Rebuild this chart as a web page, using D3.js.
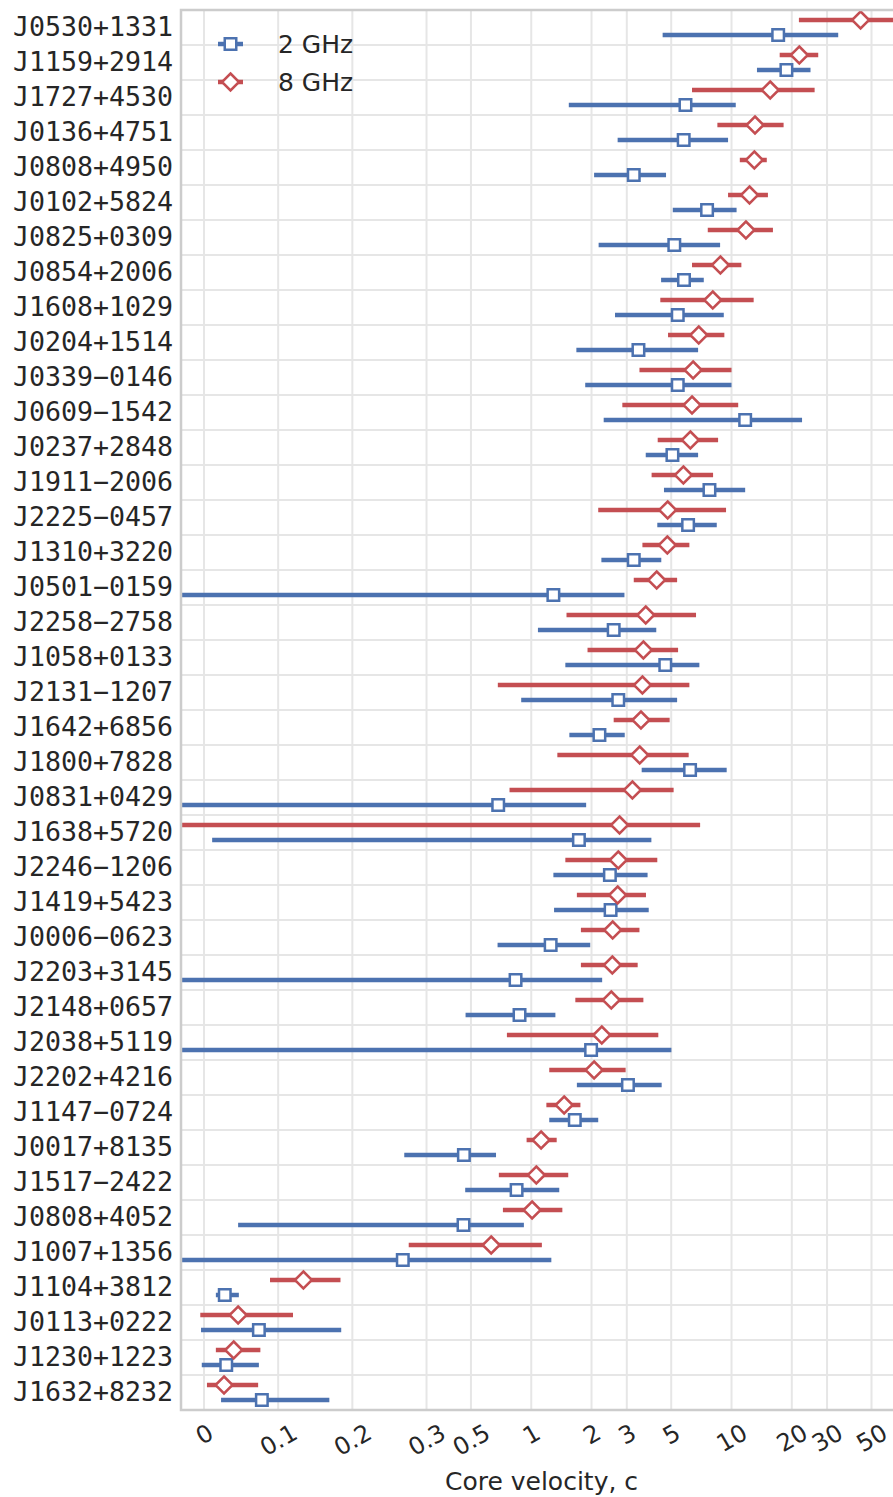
<!DOCTYPE html>
<html lang="en">
<head>
<meta charset="utf-8">
<title>Core velocity</title>
<style>
  body { margin: 0; background: #fff; }
  svg { display: block; }
  text { fill: #262626; }
  .grid line { stroke: #e6e6e6; stroke-width: 2px; }
  .spine { stroke: #cccccc; stroke-width: 2.5px; fill: none; }
  .err { stroke-width: 4.5px; fill: none; }
  .mark { fill: #fff; stroke-width: 2.5px; }
</style>
</head>
<body>
<div id="chart"></div>
<script src="https://d3js.org/d3.v7.min.js"></script>
<script>
// sources, top to bottom
var names = ["J0530+1331", "J1159+2914", "J1727+4530", "J0136+4751", "J0808+4950",
  "J0102+5824", "J0825+0309", "J0854+2006", "J1608+1029", "J0204+1514",
  "J0339\u22120146", "J0609\u22121542", "J0237+2848", "J1911\u22122006", "J2225\u22120457",
  "J1310+3220", "J0501\u22120159", "J2258\u22122758", "J1058+0133", "J2131\u22121207",
  "J1642+6856", "J1800+7828", "J0831+0429", "J1638+5720", "J2246\u22121206",
  "J1419+5423", "J0006\u22120623", "J2203+3145", "J2148+0657", "J2038+5119",
  "J2202+4216", "J1147\u22120724", "J0017+8135", "J1517\u22122422", "J0808+4052",
  "J1007+1356", "J1104+3812", "J0113+0222", "J1230+1223", "J1632+8232"];

// 8 GHz core velocity and error range
var v8 = [44.1, 21.8, 15.6, 13.1, 13.0, 12.3, 11.8, 8.80, 8.06, 6.86,
  6.43, 6.35, 6.23, 5.75, 4.80, 4.78, 4.23, 3.73, 3.63, 3.59,
  3.53, 3.48, 3.20, 2.76, 2.72, 2.70, 2.55, 2.54, 2.51, 2.25,
  2.06, 1.46, 1.12, 1.06, 1.01, 0.631, 0.134, 0.046, 0.040, 0.027];
var v8lo = [21.7, 17.4, 6.35, 8.50, 11.0, 9.61, 7.61, 6.35, 4.41, 4.82,
  3.47, 2.85, 4.28, 3.99, 2.16, 3.59, 3.25, 1.50, 1.91, 0.681,
  2.58, 1.35, 0.779, -1.4, 1.48, 1.69, 1.77, 1.77, 1.66, 0.756,
  1.23, 1.19, 0.948, 0.689, 0.722, 0.276, 0.089, -0.005, 0.016, 0.004];
var v8hi = [66, 27.1, 26.0, 18.2, 15.0, 15.2, 16.1, 11.2, 12.9, 9.21,
  10.0, 10.8, 8.57, 8.09, 9.39, 6.16, 5.35, 6.65, 5.41, 6.16,
  4.91, 6.11, 5.14, 6.97, 4.26, 3.74, 3.47, 3.40, 3.63, 4.31,
  2.96, 1.76, 1.34, 1.53, 1.43, 1.13, 0.184, 0.120, 0.076, 0.073];

// 2 GHz core velocity and error range
var v2 = [17.1, 18.8, 5.89, 5.77, 3.25, 7.55, 5.18, 5.79, 5.39, 3.43,
  5.39, 11.7, 5.07, 7.76, 6.07, 3.25, 1.29, 2.58, 4.67, 2.72,
  2.19, 6.21, 0.684, 1.73, 2.47, 2.49, 1.25, 0.835, 0.874, 1.99,
  3.04, 1.65, 0.461, 0.845, 0.459, 0.268, 0.028, 0.074, 0.030, 0.078];
var v2lo = [4.53, 13.4, 1.54, 2.70, 2.06, 5.09, 2.17, 4.45, 2.62, 1.68,
  1.86, 2.30, 3.73, 4.60, 4.26, 2.24, -0.35, 1.08, 1.48, 0.891,
  1.55, 3.56, -0.5, 0.011, 1.29, 1.30, 0.679, -0.6, 0.470, -1.0,
  1.69, 1.23, 0.27, 0.468, 0.046, -0.73, 0.016, -0.004, -0.003, 0.023];
var v2hi = [34.1, 24.8, 10.5, 9.61, 4.71, 10.6, 8.77, 7.27, 9.15, 6.81,
  10.0, 22.5, 6.81, 11.7, 8.44, 4.46, 2.92, 4.21, 6.91, 5.35,
  2.93, 9.46, 1.88, 3.98, 3.81, 3.86, 1.97, 2.26, 1.32, 5.01,
  4.48, 2.16, 0.667, 1.38, 0.919, 1.26, 0.047, 0.185, 0.074, 0.169];

var xTicks = [0, 0.1, 0.2, 0.3, 0.5, 1, 2, 3, 5, 10, 20, 30, 50];
var xTickLabels = ["0", "0.1", "0.2", "0.3", "0.5", "1", "2", "3", "5", "10", "20", "30", "50"];

var width = 893, height = 1497,
    plot = {left: 181, top: 10, right: 902, bottom: 1410};

var blue = "#4c72b0", red = "#c44e52";

// symlog like matplotlib: linear up to 0.3, log10 above
var linthresh = 0.3, linscale = 1 / (1 - 1 / 10);
function symlog(v) {
  var a = Math.abs(v);
  if (a <= linthresh) return v / linthresh * linscale;
  return Math.sign(v) * (linscale + Math.log10(a / linthresh));
}

var xLin = d3.scaleLinear()
    .domain([symlog(-0.031), symlog(71)])
    .range([plot.left, plot.right]);
function x(v) { return xLin(symlog(v)); }

var y = d3.scaleBand()
    .domain(names)
    .range([plot.top, plot.bottom]);

var svg = d3.select("#chart").append("svg")
    .attr("width", width)
    .attr("height", height)
    .attr("font-family", "DejaVu Sans");

svg.append("defs").append("clipPath")
    .attr("id", "clip")
  .append("rect")
    .attr("x", plot.left)
    .attr("y", plot.top)
    .attr("width", plot.right - plot.left)
    .attr("height", plot.bottom - plot.top);

// grid
var grid = svg.append("g").attr("class", "grid");
grid.selectAll(".vgrid")
    .data(xTicks)
  .enter().append("line")
    .attr("x1", function(d) { return x(d); })
    .attr("x2", function(d) { return x(d); })
    .attr("y1", plot.top)
    .attr("y2", plot.bottom);
grid.selectAll(".hgrid")
    .data(names.slice(1))
  .enter().append("line")
    .attr("x1", plot.left)
    .attr("x2", plot.right)
    .attr("y1", function(d) { return y(d); })
    .attr("y2", function(d) { return y(d); });

// one entry per source and band
var series = [
  {name: "2 GHz", color: blue, shape: "square", off: 7.5, v: v2, lo: v2lo, hi: v2hi},
  {name: "8 GHz", color: red, shape: "diamond", off: -7.5, v: v8, lo: v8lo, hi: v8hi}
];

function markerPath(shape) {
  if (shape === "square") return "M-5.75,-5.75H5.75V5.75H-5.75Z";
  return "M0,-8.5L8.5,0L0,8.5L-8.5,0Z";
}

var marks = svg.append("g").attr("clip-path", "url(#clip)");

series.forEach(function(s) {
  var g = marks.append("g");
  var rows = names.map(function(n, i) {
    return {name: n, v: s.v[i], lo: s.lo[i], hi: s.hi[i]};
  });
  function cy(d) { return y(d.name) + y.bandwidth() / 2 + s.off; }

  g.selectAll(".err")
      .data(rows)
    .enter().append("line")
      .attr("class", "err")
      .attr("stroke", s.color)
      .attr("x1", function(d) { return x(d.lo); })
      .attr("x2", function(d) { return x(d.hi); })
      .attr("y1", cy)
      .attr("y2", cy);

  g.selectAll(".mark")
      .data(rows)
    .enter().append("path")
      .attr("class", "mark")
      .attr("stroke", s.color)
      .attr("d", markerPath(s.shape))
      .attr("transform", function(d) { return "translate(" + x(d.v) + "," + cy(d) + ")"; });
});

// x axis
var xAxis = svg.append("g")
    .attr("transform", "translate(0," + plot.bottom + ")")
    .call(d3.axisBottom(xLin)
      .tickValues(xTicks.map(symlog))
      .tickSize(0)
      .tickFormat(function(d, i) { return xTickLabels[i]; }));
xAxis.select(".domain").remove();
xAxis.attr("font-family", "DejaVu Sans").attr("font-size", 24);
xAxis.selectAll(".tick text")
    .attr("fill", "#262626")
    .attr("dy", null)
    .attr("text-anchor", "middle")
    .attr("dominant-baseline", "central")
    .each(function() {
      var t = d3.select(this),
          w = this.getComputedTextLength(),
          yc = 13 + (w * 0.5 + 24 * 0.73 * 0.866) / 2;
      t.attr("x", 0).attr("y", yc)
        .attr("transform", "rotate(-30,0," + yc + ")");
    });

svg.append("text")
    .attr("x", (plot.left + plot.right) / 2)
    .attr("y", 1490)
    .attr("text-anchor", "middle")
    .attr("font-size", 25)
    .text("Core velocity, c");

// y axis
var yAxis = svg.append("g")
    .attr("transform", "translate(" + plot.left + ",0)")
    .call(d3.axisLeft(y).tickSize(0).tickPadding(8));
yAxis.select(".domain").remove();
yAxis.attr("font-family", "DejaVu Sans Mono").attr("font-size", 26.6);
yAxis.selectAll(".tick text").attr("fill", "#262626");

// frame
svg.append("path")
    .attr("class", "spine")
    .attr("d", "M" + plot.right + "," + plot.top + "H" + plot.left + "V" + plot.bottom + "H" + plot.right);

// legend
var legend = svg.append("g")
    .selectAll("g")
    .data(series)
  .enter().append("g")
    .attr("transform", function(d, i) { return "translate(230.5," + (44 + i * 38) + ")"; });
legend.append("line")
    .attr("class", "err")
    .attr("stroke", function(d) { return d.color; })
    .attr("x1", -12.5)
    .attr("x2", 12.5);
legend.append("path")
    .attr("class", "mark")
    .attr("stroke", function(d) { return d.color; })
    .attr("d", function(d) { return markerPath(d.shape); });
legend.append("text")
    .attr("x", 47.5)
    .attr("dy", "0.35em")
    .attr("font-size", 25)
    .text(function(d) { return d.name; });
</script>
</body>
</html>
